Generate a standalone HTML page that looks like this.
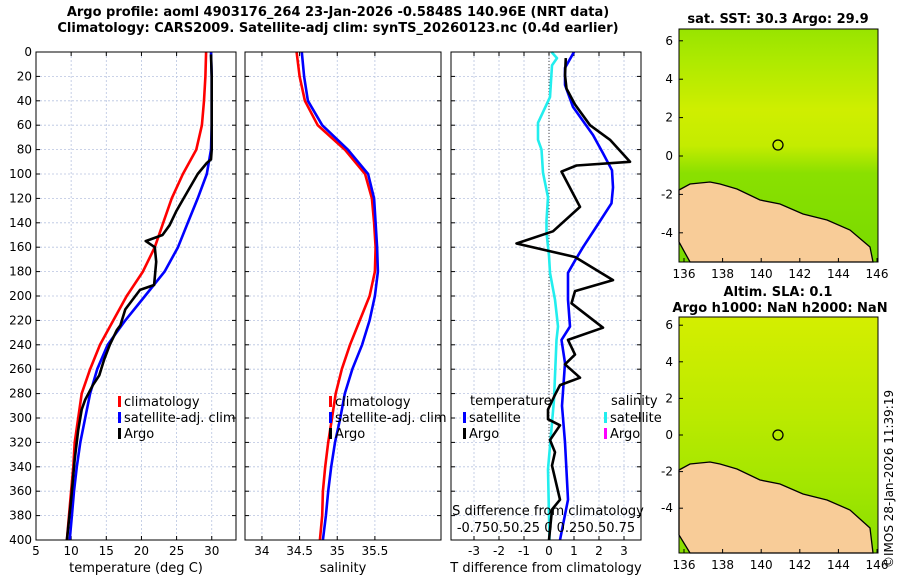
<!DOCTYPE html>
<html><head><meta charset="utf-8"><style>
body{margin:0;background:#fff;}
svg{display:block;font-family:"DejaVu Sans","Liberation Sans",sans-serif;}
</style></head><body>
<svg id="c" width="900" height="580">
<g id="titles">
<text x="338" y="16" font-size="13" font-weight="bold" text-anchor="middle">Argo profile: aoml 4903176_264 23-Jan-2026 -0.5848S 140.96E (NRT data)</text>
<text x="338" y="32" font-size="13" font-weight="bold" text-anchor="middle">Climatology: CARS2009. Satellite-adj clim: synTS_20260123.nc (0.4d earlier)</text>
<text x="778" y="23" font-size="13" font-weight="bold" text-anchor="middle">sat. SST: 30.3 Argo: 29.9</text>
<text x="778" y="296" font-size="13" font-weight="bold" text-anchor="middle">Altim. SLA: 0.1</text>
<text x="780" y="312" font-size="13" font-weight="bold" text-anchor="middle">Argo h1000: NaN h2000: NaN</text>
<text transform="translate(893,568) rotate(-90)" font-size="12">©IMOS 28-Jan-2026 11:39:19</text>
</g>
<g id="maps">
<defs>
<linearGradient id="g1" x1="0" y1="0" x2="0" y2="1"><stop offset="0" stop-color="#98e400"/><stop offset="0.15" stop-color="#b0ea00"/><stop offset="0.35" stop-color="#cfee00"/><stop offset="0.5" stop-color="#c4ec00"/><stop offset="0.62" stop-color="#8ae000"/><stop offset="1" stop-color="#78da00"/></linearGradient>
<linearGradient id="g2" x1="0" y1="0" x2="0" y2="1"><stop offset="0" stop-color="#d4ee00"/><stop offset="0.4" stop-color="#bcea00"/><stop offset="0.7" stop-color="#a4e600"/><stop offset="1" stop-color="#88de00"/></linearGradient>
</defs>
<rect x="679" y="29" width="199" height="233" fill="url(#g1)"/>
<path d="M679,190 L690,184 L710,182 L720,184 L737,189 L760,200 L780,204 L803,214 L827,220 L850,230 L870,247 L873,262 L690,262 L679,242 Z" fill="#f8cc98" stroke="#000" stroke-width="1.3"/>
<circle cx="778" cy="145" r="5" fill="none" stroke="#000" stroke-width="1.3"/>
<rect x="679" y="29" width="199" height="233" fill="none" stroke="#000"/>
<rect x="679" y="317" width="199" height="236" fill="url(#g2)"/>
<path d="M679,470 L690,464 L710,462 L720,464 L737,469 L760,480 L780,484 L803,494 L827,500 L850,510 L870,528 L873,553 L690,553 L679,535 Z" fill="#f8cc98" stroke="#000" stroke-width="1.3"/>
<circle cx="778" cy="435" r="5" fill="none" stroke="#000" stroke-width="1.3"/>
<rect x="679" y="317" width="199" height="236" fill="none" stroke="#000"/>
</g>
<g id="plots"></g>
</svg>
<script>
// ---- data ----
const depthGrid=[0,20,40,60,80,100,120,140,160,180,200,220,240,260,280,300,320,340,360,380,400];
const climT=[29.2,29.1,28.9,28.6,27.8,25.9,24.3,23.1,21.9,20.2,17.9,16.0,14.1,12.7,11.5,11.0,10.5,10.3,10.0,9.7,9.4];
const satT=[29.9,30.0,30.0,30.0,29.9,29.3,28.0,26.6,25.2,23.3,20.5,17.7,15.2,13.7,12.7,12.0,11.3,10.8,10.4,10.1,9.8];
const argoDepth=[2,20,40,60,80,88,91,100,121,130,142,150,155,160,172,191,195,211,224,228,240,252,265,273,285,293,310,334,367,400];
const argoT=[29.9,30.0,30.0,30.0,30.0,29.9,29.3,28.0,25.9,25.0,24.0,23.0,20.6,21.9,22.1,21.8,19.8,17.7,17.0,16.5,15.5,14.7,14.0,13.1,12.0,11.5,11.0,10.5,10.0,9.4];
const climS=[34.46,34.50,34.57,34.74,35.10,35.37,35.46,35.49,35.51,35.50,35.43,35.30,35.17,35.06,34.98,34.93,34.88,34.84,34.81,34.80,34.77];
const satS=[34.53,34.56,34.61,34.80,35.14,35.41,35.49,35.51,35.53,35.54,35.50,35.43,35.33,35.20,35.10,35.04,34.97,34.92,34.88,34.85,34.81];
const dTDepth=[5,19,30,43,60,72,90,93,98,127,147,157,168,187,196,206,226,236,248,256,267,273,281,293,301,306,318,328,339,367,375,400];
const argoDT=[0.67,0.64,0.70,1.04,1.64,2.44,3.24,1.10,0.50,1.24,0.16,-1.30,1.04,2.56,1.04,0.90,2.16,0.76,1.04,0.64,1.24,0.44,0.24,-0.04,-0.04,0.44,0.04,0.24,0.12,0.44,0.12,0.0];
const satDTDepth=[0,13,27,45,68,83,97,111,124,143,160,171,181,203,225,236,255,290,320,367,400];
const satDT=[1.0,0.64,0.64,0.96,1.76,2.16,2.52,2.56,2.5,1.9,1.36,1.04,0.76,0.76,0.84,0.5,0.64,0.52,0.64,0.76,0.44];
const satDSDepth=[0,5,11,37,58,72,80,99,119,138,148,167,181,203,225,236,285,342,400];
const satDS=[0.025,0.08,0.03,0.01,-0.11,-0.11,-0.075,-0.06,-0.01,-0.025,-0.025,0,0.01,0.06,0.09,0.075,0.05,-0.01,0.005];
const depthTicks=[0,20,40,60,80,100,120,140,160,180,200,220,240,260,280,300,320,340,360,380,400];
const tTicks=[5,10,15,20,25,30];
const sTicks=[34,34.5,35,35.5];
const dTTicks=[-3,-2,-1,0,1,2,3];
const lonTicks=[136,138,140,142,144,146];
const latTicks=[-4,-2,0,2,4,6];
// ---- axes ----
const Y0=52,Y1=540;
const yD=d=>Y0+(d/400)*(Y1-Y0);
const P=[{x0:36,x1:236,lo:5,hi:33.45},{x0:245,x1:441,lo:33.775,hi:36.378},{x0:451,x1:641,lo:-3.92,hi:3.68}];
const xf=i=>v=>P[i].x0+(v-P[i].lo)/(P[i].hi-P[i].lo)*(P[i].x1-P[i].x0);
const xT=xf(0),xS=xf(1),xDT=xf(2),xDS=v=>xDT(v*4);
const NS='http://www.w3.org/2000/svg';
const root=document.getElementById('plots');
function mk(tag,attrs,parent){const e=document.createElementNS(NS,tag);for(const k in attrs)e.setAttribute(k,attrs[k]);(parent||root).appendChild(e);return e;}
function txt(x,y,s,anchor,size,parent){const t=mk('text',{x:x,y:y,'font-size':size||12,'text-anchor':anchor||'middle'},parent);t.textContent=s;return t;}
function panel(i,xticks,xfun,label,name){
  const g=mk('g',{});
  
  
  const p=P[i];
  depthTicks.forEach(d=>{const l=mk('line',{x1:p.x0,x2:p.x1,y1:yD(d),y2:yD(d),stroke:'#b8c4e0','stroke-dasharray':'2,2','stroke-width':0.8},g);
    
    
    mk('line',{x1:p.x0,x2:p.x0+4,y1:yD(d),y2:yD(d),stroke:'#000'},g);mk('line',{x1:p.x1-4,x2:p.x1,y1:yD(d),y2:yD(d),stroke:'#000'},g);
    if(i===0){const t=txt(p.x0-4,yD(d)+4,String(d),'end',12,g);
      
      }
  });
  xticks.forEach(v=>{const x=xfun(v);
    const l=mk('line',{x1:x,x2:x,y1:Y0,y2:Y1,stroke:'#b8c4e0','stroke-dasharray':'2,2','stroke-width':0.8},g);
    
    
    mk('line',{x1:x,x2:x,y1:Y1,y2:Y1-4,stroke:'#000'},g);mk('line',{x1:x,x2:x,y1:Y0,y2:Y0+4,stroke:'#000'},g);
    const t=txt(x,Y1+15,String(v),'middle',12,g);
    
    
  });
  const lb=txt((p.x0+p.x1)/2,Y1+32,label,'middle',13,g);
  
  
  return g;
}
function line(g,xs,ds,xfun,color,name){
  const pts=xs.map((v,k)=>xfun(v).toFixed(1)+','+yD(ds[k]).toFixed(1)).join(' ');
  const l=mk('polyline',{points:pts,fill:'none',stroke:color,'stroke-width':2.6,'stroke-linejoin':'round'},g);
  
  
}
function frame(i,g){const p=P[i];const r=mk('rect',{x:p.x0,y:Y0,width:p.x1-p.x0,height:Y1-Y0,fill:'none',stroke:'#000'},g);
  
  }
function legend(g,x,y,items){items.forEach((it,k)=>{const yy=y+k*16;
  mk('rect',{x:x,y:yy-9,width:3,height:11,fill:it[1]},g);
  const t=txt(x+6,yy+1,it[0],'start',13,g);
  
  });}
// Panel 1
const g1=panel(0,tTicks,xT,'temperature (deg C)','temperature-panel');
line(g1,climT,depthGrid,xT,'#f00','climatology-temperature-line');
line(g1,satT,depthGrid,xT,'#00f','satellite-temperature-line');
line(g1,argoT,argoDepth,xT,'#000','argo-temperature-line');
legend(g1,118,405,[['climatology','#f00'],['satellite-adj. clim','#00f'],['Argo','#000']]);
frame(0,g1);
// Panel 2
const g2=panel(1,sTicks,xS,'salinity','salinity-panel');
line(g2,climS,depthGrid,xS,'#f00','climatology-salinity-line');
line(g2,satS,depthGrid,xS,'#00f','satellite-salinity-line');
legend(g2,329,405,[['climatology','#f00'],['satellite-adj. clim','#00f'],['Argo','#000']]);
frame(1,g2);
// Panel 3
const g3=panel(2,dTTicks,xDT,'T difference from climatology','difference-panel');
const z=mk('line',{x1:xDT(0),x2:xDT(0),y1:Y0,y2:Y1,stroke:'#444','stroke-dasharray':'1,2'},g3);


line(g3,satDS,satDSDepth,xDS,'#22eeee','satellite-salinity-difference-line');
line(g3,satDT,satDTDepth,xDT,'#00f','satellite-temperature-difference-line');
line(g3,argoDT,dTDepth,xDT,'#000','argo-temperature-difference-line');
const lt=txt(470,405,'temperature','start',13,g3);


const ls=txt(611,405,'salinity','start',13,g3);


legend(g3,463,421,[['satellite','#00f'],['Argo','#000']]);
legend(g3,604,421,[['satellite','#22eeee'],['Argo','#ff00ff']]);
const st=txt(548,515,'S difference from climatology','middle',13,g3);


const sl=txt(546,532,'-0.750.50.25 0 0.250.50.75','middle',13,g3);


frame(2,g3);
// Map ticks
function mapTicks(y1,latY0,latScale){
  const gm=mk('g',{});
  
  
  lonTicks.forEach(v=>{const x=684+(v-136)*19.3;
    mk('line',{x1:x,x2:x,y1:y1,y2:y1-4,stroke:'#000'},gm);
    const t=txt(x,y1+16,String(v),'middle',12,gm);
    
    });
  latTicks.forEach(v=>{const y=latY0-(v)*latScale;
    mk('line',{x1:679,x2:683,y1:y,y2:y,stroke:'#000'},gm);
    const t=txt(673,y+4,String(v),'end',12,gm);
    
    });
}
mapTicks(262,156,19.2);
mapTicks(553,435,18.3);
</script>
</body></html>
